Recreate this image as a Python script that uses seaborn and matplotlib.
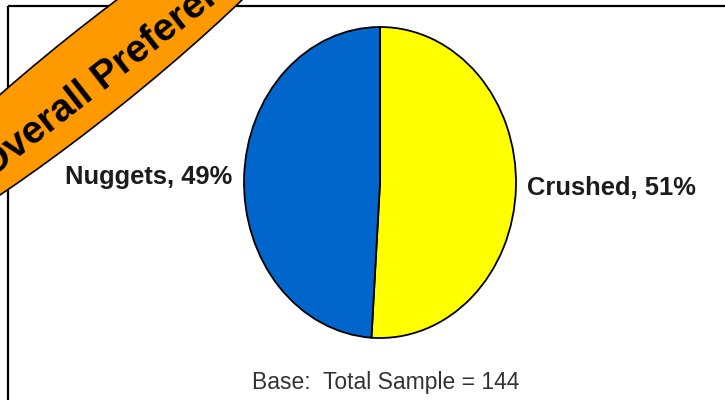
import matplotlib
matplotlib.use("Agg")
import matplotlib.pyplot as plt
from matplotlib.patches import Ellipse
import seaborn as sns

# data
categories = ["Crushed", "Nuggets"]
shares = [51, 49]
slice_colors = ["#FFFF00", "#0066CC"]
banner_text = "Overall Preference"
base_note = "Base:  Total Sample = 144"

sns.set_theme(style="white")
plt.rcParams["font.family"] = ["Liberation Sans", "DejaVu Sans"]

fig = plt.figure(figsize=(7.25, 4), dpi=100)

# overlay in pixel coordinates for the frame and the banner
bg = fig.add_axes([0, 0, 1, 1])
bg.set_xlim(0, 725)
bg.set_ylim(400, 0)
bg.axis("off")
bg.plot([8, 8], [410, 6], color="black", lw=1.6, solid_capstyle="butt")
bg.plot([8, 735], [6, 6], color="black", lw=1.6, solid_capstyle="butt")

banner = Ellipse((94, 72), width=600, height=86, angle=-38.7,
                 facecolor="#FF9900", edgecolor="black", lw=1.2, zorder=3)
bg.add_patch(banner)
bg.text(120, 65, banner_text, rotation=38, rotation_mode="anchor",
        ha="center", va="center", fontsize=28, fontweight="bold",
        color="black", zorder=4)

bg.text(386, 382, base_note, ha="center", va="center", fontsize=16.5,
        color="#333333")

# pie
ax = fig.add_axes([244 / 725, 62 / 400, 272 / 725, 311 / 400])
ax.set_facecolor("none")
labels = [f"{c}, {v}%" for c, v in zip(categories, shares)]
ax.pie(shares, labels=labels, colors=sns.color_palette(slice_colors),
       startangle=90, counterclock=False, labeldistance=1.085,
       wedgeprops=dict(edgecolor="black", linewidth=1.3),
       textprops=dict(fontsize=18.4, fontweight="bold", color="#1c1c1c"))
ax.set_xlim(-1, 1)
ax.set_ylim(-1, 1)
ax.set_aspect("auto")

fig.savefig("out.png", dpi=100)
